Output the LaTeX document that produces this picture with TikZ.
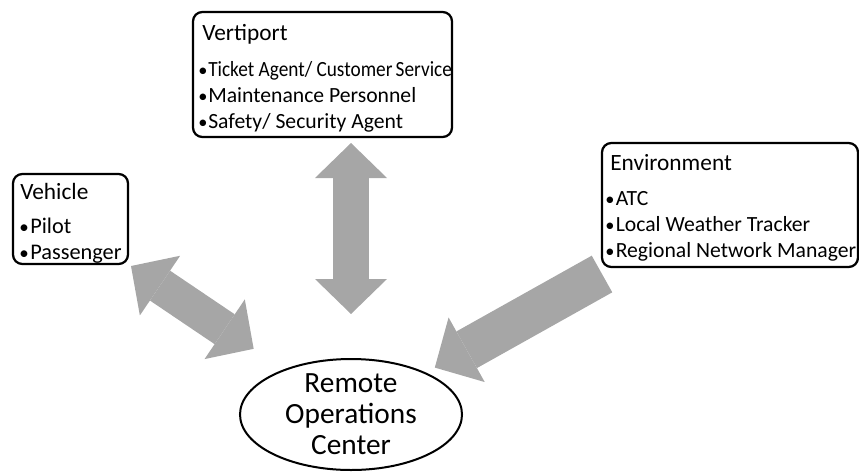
\documentclass[tikz,border=0pt]{standalone}
\usepackage{fontspec}
\usepackage{graphicx}
\setmainfont{Carlito}
\usetikzlibrary{arrows.meta,shapes.geometric}

\definecolor{arrowgray}{RGB}{166,166,166}

\def\px{0.75pt}
\newcommand{\itm}[2]{\makebox[#1][l]{\scalebox{0.85}{•}}#2}

\tikzset{
  infobox/.style={draw, line width=1.7pt, rounded corners=7pt, inner sep=0pt, outer sep=0pt, anchor=north west},
  boxtitle/.style={anchor=base west, inner sep=0pt, font=\fontsize{17.5}{21}\selectfont},
  boxitem/.style={anchor=base west, inner sep=0pt, font=\fontsize{16.25}{19.5}\selectfont},
  hub/.style={ellipse, draw, line width=1.5pt, inner xsep=0pt, inner ysep=-3pt, outer sep=0pt,
    minimum width=222*\px, minimum height=111*\px, align=center, font=\fontsize{22}{23.25}\selectfont},
  twoway/.style={arrowgray, line width=36*\px,
    {Triangle[width=72*\px, length=35*\px, line width=0pt]}-{Triangle[width=72*\px, length=35*\px, line width=0pt]}},
  oneway/.style={arrowgray, line width=42*\px,
    -{Triangle[width=74*\px, length=36.5*\px, line width=0pt]}}
}

\begin{document}
\begin{tikzpicture}[x=\px, y=-\px]

   \useasboundingbox (0,0) rectangle (859,471);

   \def\vpx{193} % vertiport box, top left
   \def\vpy{12}
   \def\vhx{13}  % vehicle box
   \def\vhy{174}
   \def\evx{602} % environment box
   \def\evy{143}

   \def\dy{26} % item spacing

   % boxes
   \node[infobox, minimum width=259*\px, minimum height=125*\px] (vertiport) at (\vpx, \vpy) {};
   \node[infobox, minimum width=115*\px, minimum height=90*\px] (vehicle) at (\vhx, \vhy) {};
   \node[infobox, minimum width=256*\px, minimum height=124*\px] (environment) at (\evx, \evy) {};

   \node[hub] (roc) at (351, 414.5) {Remote\\Operations\\Center};

   % titles
   \node[boxtitle] (vptitle) at (\vpx+9, \vpy+28) {Vertiport};
   \node[boxtitle] (vhtitle) at (\vhx+7, \vhy+25) {Vehicle};
   \node[boxtitle] (evtitle) at (\evx+8, \evy+27) {Environment};

   % items
   \node[boxitem] (vp1) at (\vpx+5, \vpy+64)
      {\itm{7.5pt}{\scalebox{0.89}[1]{Ticket Agent/ Customer\,Service}}};
   \foreach \txt [count=\i from 2] in {{Maintenance Personnel}, {Safety/ Security Agent}}
      \node[boxitem] (vp\i) at (\vpx+5, {\vpy+64+\dy*(\i-1)}) {\itm{7.5pt}{\txt}};
   \foreach \txt [count=\i] in {Pilot, Passenger}
      \node[boxitem, font=\fontsize{16.75}{20}\selectfont] (vh\i) at (\vhx+6, {\vhy+59+\dy*(\i-1)}) {\itm{8.25pt}{\txt}};
   \foreach \txt [count=\i] in {ATC, {Local Weather Tracker}, {Regional Network Manager}}
      \node[boxitem] (ev\i) at (\evx+3, {\evy+62+\dy*(\i-1)}) {\itm{7.9pt}{\txt}};

   % arrows
   \draw[twoway, shorten <=6*\px, shorten >=45*\px] (vertiport.south -| roc.north) -- (roc.north);
   \draw[twoway, shorten <=3.6*\px, shorten >=37.7*\px] (vehicle.south east) -- (roc);
   \draw[oneway, shorten >=11.3*\px] ([yshift=-7*\px]environment.south west) -- (roc);

\end{tikzpicture}
\end{document}
